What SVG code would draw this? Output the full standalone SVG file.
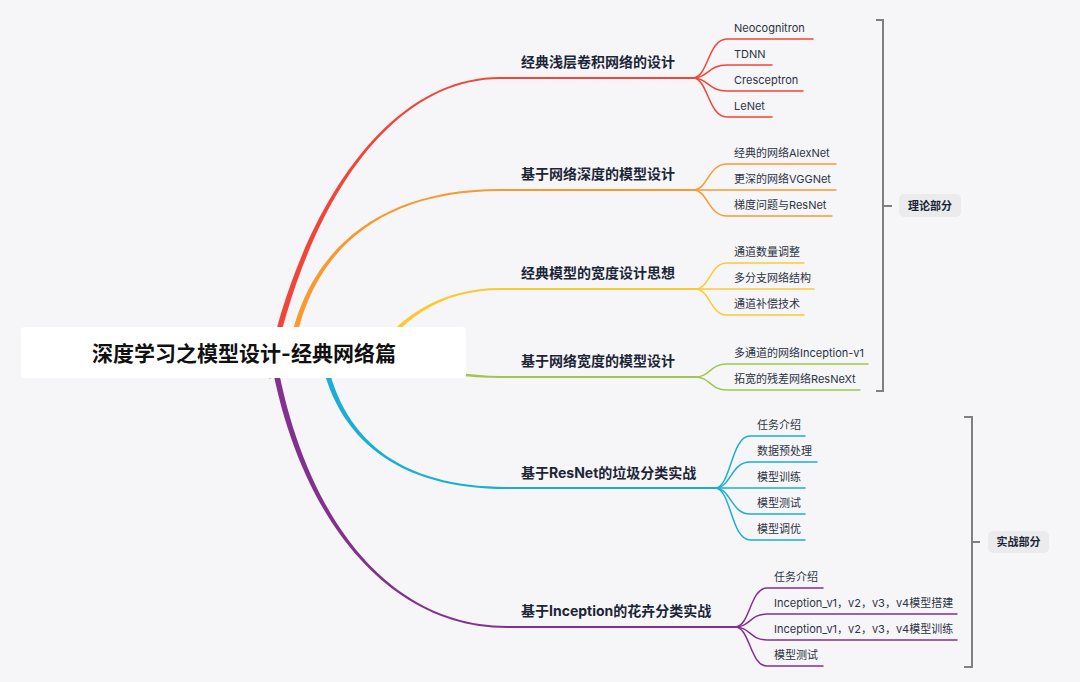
<svg xmlns="http://www.w3.org/2000/svg" width="1080" height="682" viewBox="0 0 1080 682">
<style>
.bg{fill:#f6f6f9}
.main{fill:none;stroke-width:2;stroke-linecap:round}
.sub{fill:none;stroke-width:1.5;stroke-linecap:round}
.red{stroke:#f2453a}.redf{fill:#f2453a}
.org{stroke:#f99a30}.orgf{fill:#f99a30}
.yel{stroke:#fcc934}.yelf{fill:#fcc934}
.grn{stroke:#9fc84a}.grnf{fill:#9fc84a}
.blu{stroke:#1baed4}.bluf{fill:#1baed4}
.pur{stroke:#83308f}.purf{fill:#83308f}
.brk{fill:none;stroke:#808080;stroke-width:2}
.title{font-family:"Inter","Noto Sans CJK SC",sans-serif;font-size:21px;font-weight:700;fill:#111;text-anchor:middle;dominant-baseline:central}
.t1{font-family:"Inter","Noto Sans CJK SC",sans-serif;font-size:14px;font-weight:700;fill:#1c2536;dominant-baseline:central}
.t2{font-family:"Inter","Noto Sans CJK SC",sans-serif;font-size:11px;fill:#2c3442;dominant-baseline:central}
.lbl{font-family:"Inter","Noto Sans CJK SC",sans-serif;font-size:11px;font-weight:700;fill:#1c2536;text-anchor:middle;dominant-baseline:central}
.lblbox{fill:#ebebee}
</style>
<rect class="bg" x="0" y="0" width="1080" height="682"/>
<g id="connectors">
  <!-- main branches (tapered) -->
  <path class="redf" d="M 270.8 378.5 C 302.8 215.5 385 79 500 79 L 500 77 C 385 77 297.2 214.5 265.2 377.5 Z"/>
  <path class="orgf" d="M 292.6 360.4 C 305.6 260.4 370 191 500 191 L 500 189 C 370 189 300.4 259.6 287.4 359.6 Z"/>
  <path class="yelf" d="M 372.1 366.2 C 397.1 321.2 440 290 500 290 L 500 288 C 440 288 392.9 318.8 367.9 363.8 Z"/>
  <path class="grnf" d="M 400 370 C 440 373 470 378 500 378 L 500 376 C 470 376 440 369 400 366 Z"/>
  <path class="bluf" d="M 319.4 350.4 C 334.4 440.4 400 489 507 489 L 507 487 C 400 487 339.6 439.6 324.6 349.6 Z"/>
  <path class="purf" d="M 269.2 350.5 C 297.2 520.5 390 628 507 628 L 507 626 C 390 626 302.8 519.5 274.8 349.5 Z"/>
  <!-- main underlines -->
  <path class="main red" d="M 499 78 H 693"/>
  <path class="main org" d="M 499 190 H 693"/>
  <path class="main yel" d="M 499 289 H 695"/>
  <path class="main grn" d="M 499 377 H 695"/>
  <path class="main blu" d="M 506 488 H 715"/>
  <path class="main pur" d="M 506 627 H 735"/>
  <!-- red subs -->
  <path class="sub red" d="M 693 78 C 708 78 708 39 727 39 H 813"/>
  <path class="sub red" d="M 693 78 C 708 78 708 65 727 65 H 772"/>
  <path class="sub red" d="M 693 78 C 708 78 708 91 727 91 H 803"/>
  <path class="sub red" d="M 693 78 C 708 78 708 117 727 117 H 772"/>
  <!-- orange subs -->
  <path class="sub org" d="M 693 190 C 708 190 708 164 727 164 H 836"/>
  <path class="sub org" d="M 693 190 H 836"/>
  <path class="sub org" d="M 693 190 C 708 190 708 216 727 216 H 832"/>
  <!-- yellow subs -->
  <path class="sub yel" d="M 695 289 C 710 289 710 263 727 263 H 804"/>
  <path class="sub yel" d="M 695 289 H 814"/>
  <path class="sub yel" d="M 695 289 C 710 289 710 315 727 315 H 804"/>
  <!-- green subs -->
  <path class="sub grn" d="M 695 377 C 710 377 710 364 727 364 H 868"/>
  <path class="sub grn" d="M 695 377 C 710 377 710 390 727 390 H 860"/>
  <!-- blue subs -->
  <path class="sub blu" d="M 715 488 C 731 488 731 436 750 436 H 805"/>
  <path class="sub blu" d="M 715 488 C 731 488 731 462 750 462 H 817"/>
  <path class="sub blu" d="M 715 488 H 805"/>
  <path class="sub blu" d="M 715 488 C 731 488 731 514 750 514 H 805"/>
  <path class="sub blu" d="M 715 488 C 731 488 731 540 750 540 H 805"/>
  <!-- purple subs -->
  <path class="sub pur" d="M 735 627 C 750 627 750 588 767 588 H 823"/>
  <path class="sub pur" d="M 735 627 C 750 627 750 614 767 614 H 957"/>
  <path class="sub pur" d="M 735 627 C 750 627 750 640 767 640 H 957"/>
  <path class="sub pur" d="M 735 627 C 750 627 750 666 767 666 H 823"/>
  <!-- brackets -->
  <path class="brk" d="M 876 20 H 883 V 391 H 876 M 883 206 H 892"/>
  <path class="brk" d="M 964 417 H 972 V 667 H 964 M 972 542 H 980"/>
</g>
<g id="root">
  <rect x="21" y="327" width="445" height="51" rx="4" fill="#ffffff"/>
  <text class="title" x="244" y="353">深度学习之模型设计-经典网络篇</text>
</g>
<g id="b1"><text class="t1" x="521" y="61">经典浅层卷积网络的设计</text></g>
<g id="b1-1"><text class="t2" x="734" y="28">Neocognitron</text></g>
<g id="b1-2"><text class="t2" x="734" y="54">TDNN</text></g>
<g id="b1-3"><text class="t2" x="734" y="80">Cresceptron</text></g>
<g id="b1-4"><text class="t2" x="734" y="106">LeNet</text></g>
<g id="b2"><text class="t1" x="521" y="173">基于网络深度的模型设计</text></g>
<g id="b2-1"><text class="t2" x="734" y="153">经典的网络AlexNet</text></g>
<g id="b2-2"><text class="t2" x="734" y="179">更深的网络VGGNet</text></g>
<g id="b2-3"><text class="t2" x="734" y="205">梯度问题与ResNet</text></g>
<g id="b3"><text class="t1" x="521" y="272">经典模型的宽度设计思想</text></g>
<g id="b3-1"><text class="t2" x="734" y="252">通道数量调整</text></g>
<g id="b3-2"><text class="t2" x="734" y="278">多分支网络结构</text></g>
<g id="b3-3"><text class="t2" x="734" y="304">通道补偿技术</text></g>
<g id="b4"><text class="t1" x="521" y="360">基于网络宽度的模型设计</text></g>
<g id="b4-1"><text class="t2" x="734" y="353">多通道的网络Inception-v1</text></g>
<g id="b4-2"><text class="t2" x="734" y="379">拓宽的残差网络ResNeXt</text></g>
<g id="b5"><text class="t1" x="521" y="472">基于ResNet的垃圾分类实战</text></g>
<g id="b5-1"><text class="t2" x="757" y="425">任务介绍</text></g>
<g id="b5-2"><text class="t2" x="757" y="451">数据预处理</text></g>
<g id="b5-3"><text class="t2" x="757" y="477">模型训练</text></g>
<g id="b5-4"><text class="t2" x="757" y="503">模型测试</text></g>
<g id="b5-5"><text class="t2" x="757" y="529">模型调优</text></g>
<g id="b6"><text class="t1" x="521" y="610">基于Inception的花卉分类实战</text></g>
<g id="b6-1"><text class="t2" x="774" y="577">任务介绍</text></g>
<g id="b6-2"><text class="t2" x="774" y="603">Inception_v1，v2，v3，v4模型搭建</text></g>
<g id="b6-3"><text class="t2" x="774" y="629">Inception_v1，v2，v3，v4模型训练</text></g>
<g id="b6-4"><text class="t2" x="774" y="655">模型测试</text></g>
<g id="theory">
  <rect class="lblbox" x="899" y="194" width="62" height="23" rx="5"/>
  <text class="lbl" x="930" y="205.5">理论部分</text>
</g>
<g id="practice">
  <rect class="lblbox" x="988" y="531" width="61" height="22" rx="5"/>
  <text class="lbl" x="1018.5" y="542">实战部分</text>
</g>
</svg>
